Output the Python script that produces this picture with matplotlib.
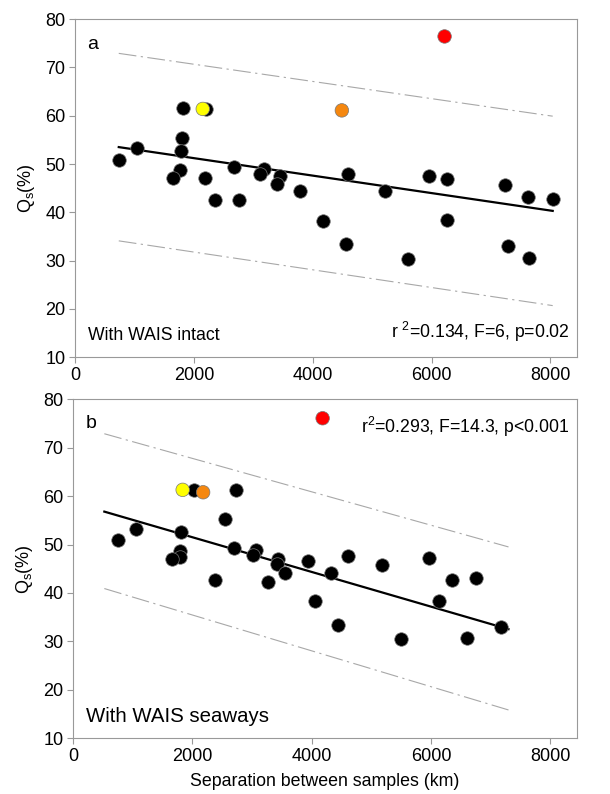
import matplotlib
matplotlib.use("Agg")
import matplotlib.pyplot as plt

plt.rcParams['font.family'] = ['Liberation Sans', 'DejaVu Sans']
plt.rcParams['mathtext.fontset'] = 'custom'
plt.rcParams['mathtext.rm'] = 'Liberation Sans'
plt.rcParams['mathtext.it'] = 'Liberation Sans'

# panel a - WAIS intact
a_x = [736, 1044, 1824, 2206, 1808, 1791, 1768, 1645, 2196, 2358, 2672, 2762,
       3183, 3116, 3453, 3397, 3790, 4182, 4564, 4587, 5211, 5603, 5952, 6255,
       6259, 7237, 7293, 7624, 7641, 8039]
a_y = [50.9, 53.3, 61.6, 61.4, 55.4, 52.6, 48.8, 47.1, 47.2, 42.6, 49.3, 42.5,
       49.0, 47.9, 47.5, 45.9, 44.5, 38.2, 33.5, 47.9, 44.4, 30.4, 47.5, 46.8,
       38.4, 45.7, 33.1, 43.2, 30.6, 42.7]
a_col_x = [2150, 4491, 6220]
a_col_y = [61.4, 61.1, 76.4]
a_fit_x = [736, 8040]
a_fit_y = [53.5, 40.3]
a_up_y = [72.9, 59.9]
a_lo_y = [34.1, 20.7]

# panel b - WAIS seaways
b_x = [2021, 2735, 2543, 758, 1061, 1809, 1786, 1786, 1662, 2695, 3071, 3015,
       3436, 3414, 3549, 3936, 4318, 4604, 5177, 5969, 6361, 6754, 2370, 3267,
       4059, 4446, 5491, 6137, 6609, 7175]
b_y = [61.3, 61.2, 55.3, 51.0, 53.3, 52.5, 48.7, 47.4, 47.0, 49.2, 48.8, 47.8,
       47.1, 45.9, 44.2, 46.6, 44.2, 47.7, 45.8, 47.2, 42.6, 43.0, 42.6, 42.3,
       38.3, 33.3, 30.5, 38.3, 30.7, 32.9]
b_col_x = [1836, 2179, 4183]
b_col_y = [61.3, 60.8, 76.1]
b_fit_x = [522, 7300]
b_fit_y = [56.8, 32.5]
b_up_y = [72.9, 49.5]
b_lo_y = [40.9, 15.8]

col_colors = ['#ffff00', '#f5870f', '#ff0000']

fig = plt.figure(figsize=(6.1, 7.94), dpi=100)
ax1 = fig.add_axes([0.123, 0.550, 0.823, 0.426])
ax2 = fig.add_axes([0.120, 0.0705, 0.826, 0.4265])

band_style = dict(color='#a8a8a8', lw=0.8, linestyle=(0, (16, 4, 2, 4)))


def draw(ax, x, y, cx, cy, fx, fy, uy, ly):
    ax.plot(fx, uy, **band_style)
    ax.plot(fx, ly, **band_style)
    ax.plot(fx, fy, color='black', lw=1.6, zorder=2)
    ax.scatter(x, y, s=95, c='black', edgecolors='#777777', linewidths=0.5, zorder=3)
    ax.scatter(cx, cy, s=95, c=col_colors, edgecolors='#777777', linewidths=0.5, zorder=4)
    ax.set_xlim(0, 8450)
    ax.set_ylim(10, 80)
    ax.set_xticks([0, 2000, 4000, 6000, 8000])
    ax.set_yticks([10, 20, 30, 40, 50, 60, 70, 80])
    for s in ax.spines.values():
        s.set_color('#999999')
    ax.tick_params(direction='out', length=4, color='#999999', labelsize=13, pad=3)
    ax.set_ylabel(r'Q$_\mathrm{s}$(%)', fontsize=13, labelpad=6)


draw(ax1, a_x, a_y, a_col_x, a_col_y, a_fit_x, a_fit_y, a_up_y, a_lo_y)
draw(ax2, b_x, b_y, b_col_x, b_col_y, b_fit_x, b_fit_y, b_up_y, b_lo_y)

ax1.text(0.025, 0.95, 'a', transform=ax1.transAxes, fontsize=14, va='top')
ax1.text(0.025, 0.04, 'With WAIS intact', transform=ax1.transAxes, fontsize=12.7, va='bottom')
ax1.text(0.985, 0.04, r'r $^{2}$=0.134, F=6, p=0.02', transform=ax1.transAxes,
         fontsize=12.7, va='bottom', ha='right')

ax2.text(0.025, 0.955, 'b', transform=ax2.transAxes, fontsize=14, va='top')
ax2.text(0.985, 0.955, r'r$^{2}$=0.293, F=14.3, p<0.001', transform=ax2.transAxes,
         fontsize=12.7, va='top', ha='right')
ax2.text(0.025, 0.035, 'With WAIS seaways', transform=ax2.transAxes, fontsize=14.7, va='bottom')
ax2.set_xlabel('Separation between samples (km)', fontsize=12.8, labelpad=6)

fig.savefig('out.png', dpi=100)
